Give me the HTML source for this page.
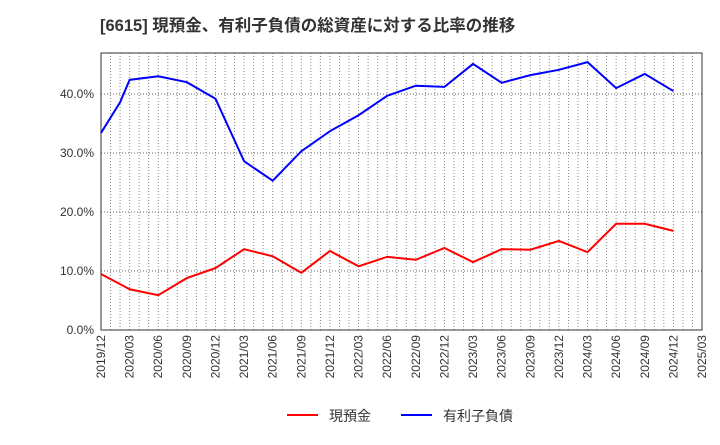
<!DOCTYPE html>
<html><head><meta charset="utf-8"><style>
body{margin:0;background:#fff;}
svg text{font-family:"Liberation Sans","Noto Sans CJK JP",sans-serif;fill:#333;}
</style></head><body>
<svg id="c" width="720" height="440" xmlns="http://www.w3.org/2000/svg">
<text x="100" y="31" font-size="16.5" font-weight="bold">[6615]  現預金、有利子負債の総資産に対する比率の推移</text>
<g id="grid"></g>
<g id="axes"></g>
<g id="series"></g>
<g>
<line x1="287" y1="415" x2="318" y2="415" stroke="#f00" stroke-width="2"/>
<text x="329" y="421" font-size="14">現預金</text>
<line x1="401" y1="415" x2="432" y2="415" stroke="#00f" stroke-width="2"/>
<text x="443" y="421" font-size="14">有利子負債</text>
</g>
</svg>
<script>
const xLabels=["2019/12","2020/03","2020/06","2020/09","2020/12","2021/03","2021/06","2021/09","2021/12","2022/03","2022/06","2022/09","2022/12","2023/03","2023/06","2023/09","2023/12","2024/03","2024/06","2024/09","2024/12","2025/03"];
const yTicks=[0,10,20,30,40];
const cashMonths=[0,3,6,9,12,15,18,21,24,27,30,33,36,39,42,45,48,51,54,57,60];
const cashValues=[9.5,6.9,5.9,8.8,10.5,13.7,12.5,9.7,13.4,10.8,12.4,11.9,13.9,11.5,13.7,13.6,15.1,13.2,18.0,18.0,16.8];
const debtMonths=[0,2,3,6,9,12,15,18,21,24,27,30,33,36,39,42,45,48,51,54,57,60];
const debtValues=[33.4,38.6,42.4,43.0,42.0,39.2,28.6,25.3,30.3,33.7,36.4,39.7,41.4,41.2,45.1,41.9,43.2,44.1,45.4,41.0,43.4,40.5];
const L=101,R=702,T=53,B=330,NS="http://www.w3.org/2000/svg";
const xs=m=>L+m*(R-L)/63, ys=v=>B-v*5.9;
function mk(t,a,p){const e=document.createElementNS(NS,t);for(const k in a)e.setAttribute(k,a[k]);p.appendChild(e);return e;}
const g=document.getElementById('grid'),ax=document.getElementById('axes'),s=document.getElementById('series');
for(let m=1;m<63;m++){const l=mk('line',{x1:xs(m),x2:xs(m),y1:T,y2:B,stroke:'#888','stroke-width':1,'stroke-dasharray':'1,2'},g);

}
yTicks.forEach(v=>{if(v>0){const l=mk('line',{x1:L,x2:R,y1:ys(v),y2:ys(v),stroke:'#666','stroke-width':1,'stroke-dasharray':'1,2'},g);

}
const t=mk('text',{x:L-7,y:ys(v)+4,'font-size':12,'text-anchor':'end'},ax);t.textContent=v.toFixed(1)+'%';

});
const fr=mk('rect',{x:L,y:T,width:R-L,height:B-T,fill:'none',stroke:'#333','stroke-width':1},ax);


xLabels.forEach((lb,i)=>{const x=xs(i*3);const t=mk('text',{x:x+4,y:B+5,'font-size':12,'text-anchor':'end',transform:`rotate(-90 ${x+4} ${B+5})`},ax);t.textContent=lb;

});
function line(ms,vs,c,n){const p=mk('polyline',{points:ms.map((m,i)=>xs(m)+','+ys(vs[i])).join(' '),fill:'none',stroke:c,'stroke-width':2},s);

}
line(cashMonths,cashValues,'#f00','cash-line');
line(debtMonths,debtValues,'#00f','debt-line');
</script>
</body></html>
